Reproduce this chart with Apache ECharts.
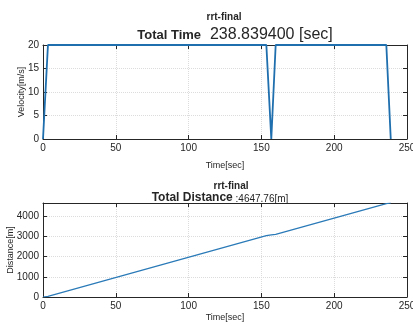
<!DOCTYPE html>
<html><head><meta charset="utf-8">
<script src="https://cdn.jsdelivr.net/npm/echarts@6/dist/echarts.min.js"></script>
<style>html,body{margin:0;padding:0;background:#fff}#c{width:413px;height:327px}</style>
</head><body><div id="c"></div>
<script>
const timeV = [0, 3.4, 153.4, 156.8, 159.8, 235.8, 238.84];
const velocity = [0, 20, 20, 0, 20, 20, 0];
const timeD = [0, 3.4, 153.4, 156.8, 159.8, 235.8, 238.84];
const distance = [0, 34, 3034, 3068, 3098, 4618, 4647.76];
const xTicks = [0, 50, 100, 150, 200, 250];

const chart = echarts.init(document.getElementById('c'));
const axisCol = '#262626';
const font = 'Liberation Sans, Arial, sans-serif';
const fmt = v => String(v);
function xa(gi, show, gap) {
  return {
    type: 'value', gridIndex: gi, min: 0, max: 250, interval: 50,
    position: show ? 'bottom' : 'top',
    name: show ? 'Time[sec]' : '', nameLocation: 'middle', nameGap: gap || 18, nameMoveOverlap: false,
    nameTextStyle: {fontSize: 9, color: axisCol, fontFamily: font},
    axisLine: {show: true, onZero: false, lineStyle: {color: axisCol, width: 1}},
    axisTick: {show: true, inside: true, length: 4, lineStyle: {color: axisCol}},
    axisLabel: {show: show, fontSize: 10, color: axisCol, margin: 4, fontFamily: font, formatter: fmt},
    splitLine: {show: show, lineStyle: {color: '#dcdcdc', type: 'dotted'}}
  };
}
function ya(gi, show, opts) {
  return Object.assign({
    type: 'value', gridIndex: gi,
    position: show ? 'left' : 'right',
    nameLocation: 'middle', nameMoveOverlap: false,
    nameTextStyle: {fontSize: 9, color: axisCol, fontFamily: font},
    axisLine: {show: true, onZero: false, lineStyle: {color: axisCol, width: 1}},
    axisTick: {show: true, inside: true, length: 4, lineStyle: {color: axisCol}},
    axisLabel: {show: show, fontSize: 10, color: axisCol, margin: 4, fontFamily: font, showMaxLabel: true, formatter: fmt},
    splitLine: {show: show, lineStyle: {color: '#dcdcdc', type: 'dotted'}}
  }, opts);
}
chart.setOption({
  animation: false,
  backgroundColor: '#fff',
  title: [
    {text: 'rrt-final', left: 219, textAlign: 'center', top: 7,
      textStyle: {fontSize: 10, fontWeight: 'bold', color: axisCol, fontFamily: font}},
    {text: '{a|Total Time}{b|  238.839400 [sec]}', left: 230, textAlign: 'center', top: 22,
      textStyle: {rich: {
        a: {fontSize: 13, fontWeight: 'bold', color: axisCol, fontFamily: font},
        b: {fontSize: 16, fontWeight: 'normal', color: axisCol, fontFamily: font}}}},
    {text: 'rrt-final', left: 226, textAlign: 'center', top: 176,
      textStyle: {fontSize: 10, fontWeight: 'bold', color: axisCol, fontFamily: font}},
    {text: '{a|Total Distance}{b| :4647.76[m]}', left: 215, textAlign: 'center', top: 187,
      textStyle: {rich: {
        a: {fontSize: 12, fontWeight: 'bold', color: axisCol, fontFamily: font},
        b: {fontSize: 10, fontWeight: 'normal', color: axisCol, fontFamily: font, padding: [2, 0, 0, 0]}}}}
  ],
  grid: [
    {left: 43, right: 6, top: 45, height: 94, containLabel: false, outerBoundsMode: 'none'},
    {left: 43, right: 6, top: 203, height: 94, containLabel: false, outerBoundsMode: 'none'}
  ],
  xAxis: [xa(0, true, 22), xa(0, false), xa(1, true, 16), xa(1, false)],
  yAxis: [
    ya(0, true, {min: 0, max: 20, interval: 5, name: 'Velocity[m/s]', nameGap: 17}),
    ya(0, false, {min: 0, max: 20, interval: 5}),
    ya(1, true, {min: 0, max: 4647.76, interval: 1000, name: 'Distance[m]', nameGap: 28,
      axisLabel: {show: true, fontSize: 10, color: axisCol, margin: 4, fontFamily: font, showMaxLabel: false, formatter: fmt}}),
    ya(1, false, {min: 0, max: 4647.76, interval: 1000})
  ],
  series: [
    {type: 'line', xAxisIndex: 0, yAxisIndex: 0, symbol: 'none',
      lineStyle: {color: '#1f6fae', width: 1.8},
      data: timeV.map((t, i) => [t, velocity[i]])},
    {type: 'line', xAxisIndex: 2, yAxisIndex: 2, symbol: 'none',
      lineStyle: {color: '#2a7ab8', width: 1.2},
      data: timeD.map((t, i) => [t, distance[i]])}
  ]
});
</script></body></html>
